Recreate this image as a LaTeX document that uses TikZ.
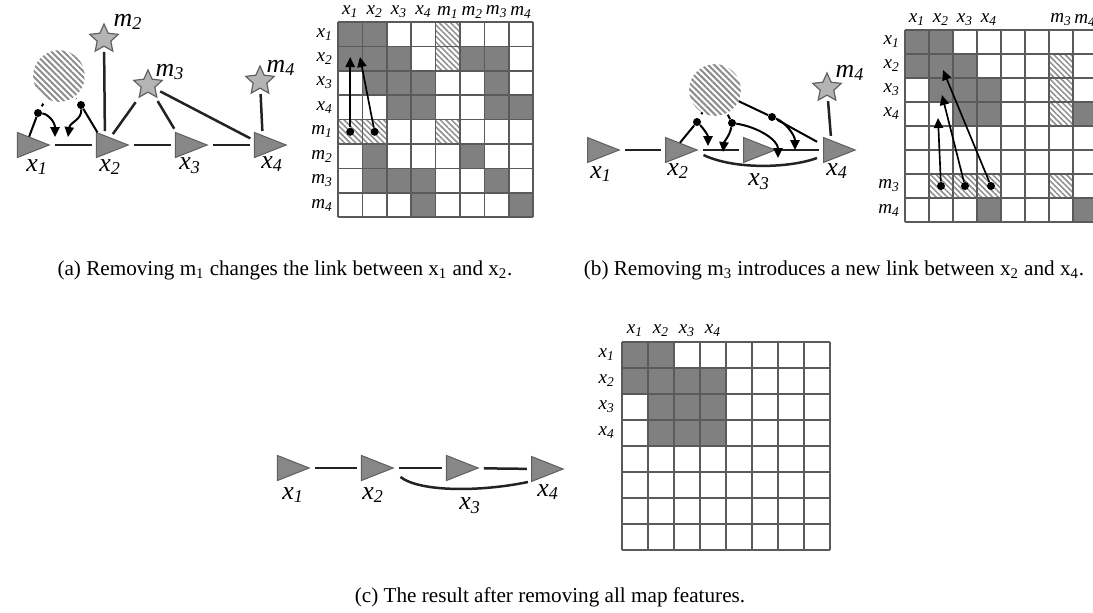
\documentclass[tikz,border=0pt]{standalone}
\usepackage{fontspec}
\setmainfont{Liberation Serif}
\usetikzlibrary{shapes.geometric,patterns.meta,arrows.meta}
\newcommand{\vlab}[2]{\textit{#1}\textsubscript{\textit{#2}}}

\begin{document}
\begin{tikzpicture}[x=0.6pt,y=-0.6pt]
  % Definir colores
  \definecolor{posefill}{RGB}{135,135,135}
  \definecolor{poseedge}{RGB}{95,95,95}
  \definecolor{starfill}{RGB}{180,180,180}
  \definecolor{cellgray}{RGB}{128,128,128}
  \definecolor{gridcolor}{RGB}{90,90,90}
  \definecolor{hatchcolor}{RGB}{140,140,140}
  \definecolor{linkcolor}{RGB}{35,35,35}

  % Configurar estilos
  \tikzset{
    pose/.style={isosceles triangle, isosceles triangle stretches, minimum width=15pt, minimum height=19pt, inner sep=0pt, fill=posefill, draw=poseedge, line width=0.6pt},
    landmark/.style={star, star points=5, star point ratio=2.1, minimum size=18pt, inner sep=0pt, fill=starfill, draw=poseedge, line width=0.7pt},
    mapblob/.style={circle, minimum size=31pt, inner sep=0pt, pattern={Lines[angle=-45,distance=2.6pt,line width=1.2pt]}, pattern color=hatchcolor},
    link/.style={draw=linkcolor, line width=1.5pt, shorten <=3pt, shorten >=2.5pt},
    tie/.style={draw=black, line width=1.2pt},
    dot/.style={circle, fill=black, minimum size=4.8pt, inner sep=0pt},
    jarrow/.style={draw=black, line width=1.2pt, -{Triangle[length=6pt,width=5.5pt]}},
    glab/.style={font=\fontsize{15.5}{17}\selectfont, inner sep=0pt},
    mlab/.style={font=\fontsize{11.5}{13}\selectfont, inner sep=0pt},
    cellon/.style={fill=cellgray},
    cellhatch/.style={pattern={Lines[angle=-45,distance=2.4pt,line width=0.9pt]}, pattern color=hatchcolor},
    gridline/.style={draw=gridcolor, line width=0.9pt},
    caption/.style={font=\fontsize{12.7}{15}\selectfont, inner sep=0pt}
  }

  \useasboundingbox (0,0) rectangle (1093,613);

  % Grafo (a)
  \node[pose] (a1) at (26,145) {};
  \node[pose] (a2) at (105,145) {};
  \node[pose] (a3) at (184,145) {};
  \node[pose] (a4) at (263,145) {};
  \node[glab] (la1) at (37,167) {\vlab{x}{1}};
  \node[glab] (la2) at (110,167) {\vlab{x}{2}};
  \node[glab] (la3) at (190,166) {\vlab{x}{3}};
  \node[glab] (la4) at (272,164) {\vlab{x}{4}};
  \node[mapblob] (am1) at (59,76) {};
  \node[landmark] (am2) at (104,39) {};
  \node[landmark] (am3) at (148,85) {};
  \node[landmark] (am4) at (260,81) {};
  \node[glab] (lam2) at (128,22) {\vlab{m}{2}};
  \node[glab] (lam3) at (170,72) {\vlab{m}{3}};
  \node[glab] (lam4) at (281,68) {\vlab{m}{4}};

  \draw[link] (a1) -- (a2);
  \draw[link] (a2) -- (a3);
  \draw[link] (a3) -- (a4);
  \draw[link] (am2) -- (a2);
  \draw[link] (am3) -- (a2);
  \draw[link] (am3) -- (a3);
  \draw[link] (am3) -- (a4);
  \draw[link] (am4) -- (a4);

  % Enlaces con m1 y sus flechas
  \node[dot] (ad1) at (38,113) {};
  \node[dot] (ad2) at (81,105) {};
  \coordinate (at1) at (55,137);
  \coordinate (at2) at (68,137);
  \draw[tie, shorten <=2pt, shorten >=3pt] (a1) -- (ad1) -- (am1);
  \draw[tie, shorten <=2pt, shorten >=1pt] (a2) -- (ad2) -- (am1);
  \draw[jarrow] (ad1) .. controls (48,114) and (55,122) .. (at1);
  \draw[jarrow] (ad2) .. controls (82,120) and (70,122) .. (at2);

  % Matriz (a)
  \begin{scope}[shift={(338,22)}]
    \foreach \c/\r in {1/1,2/1,1/2,2/2,3/2,6/2,7/2,2/3,3/3,4/3,7/3,3/4,4/4,7/4,8/4,2/6,6/6,2/7,3/7,4/7,7/7,4/8,8/8}
      \fill[cellon] ({(\c-1)*24.4},{(\r-1)*24.4}) rectangle ++(24.4,24.4);
    \foreach \c/\r in {5/1,5/2,1/5,2/5,5/5}
      \path[cellhatch] ({(\c-1)*24.4},{(\r-1)*24.4}) rectangle ++(24.4,24.4);
    \foreach \i in {0,...,8} {
      \draw[gridline] ({\i*24.4},0) -- ({\i*24.4},195.2);
      \draw[gridline] (0,{\i*24.4}) -- (195.2,{\i*24.4});
    }
    \foreach \v/\s [count=\i] in {x/1,x/2,x/3,x/4,m/1,m/2,m/3,m/4} {
      \node[mlab] (ach\i) at ({(\i-0.5)*24.4},-10) {\vlab{\v}{\s}};
      \node[mlab, anchor=east] (acr\i) at (-5,{(\i-0.5)*24.4}) {\vlab{\v}{\s}};
    }
    \node[dot] (amd1) at (12.2,109.8) {};
    \node[dot] (amd2) at (36.6,109.8) {};
    \coordinate (amt1) at (12.2,35);
    \coordinate (amt2) at (22,35);
    \draw[jarrow, line width=1pt] (amd1) -- (amt1);
    \draw[jarrow, line width=1pt] (amd2) -- (amt2);
  \end{scope}

  % Grafo (b)
  \node[pose] (b1) at (596,150) {};
  \node[pose] (b2) at (674,150) {};
  \node[pose] (b3) at (752,150) {};
  \node[pose] (b4) at (832,150) {};
  \node[glab] (lb1) at (601,174) {\vlab{x}{1}};
  \node[glab] (lb2) at (678,171) {\vlab{x}{2}};
  \node[glab] (lb3) at (759,182) {\vlab{x}{3}};
  \node[glab] (lb4) at (837,171) {\vlab{x}{4}};
  \node[mapblob] (bm3) at (715,90) {};
  \node[landmark] (bm4) at (827,88) {};
  \node[glab] (lbm4) at (850,73) {\vlab{m}{4}};

  \draw[link] (b1) -- (b2);
  \draw[link] (b2) -- (b3);
  \draw[link] (b3) -- (b4);
  \draw[link] (bm4) -- (b4);
  \draw[link, shorten <=0pt, shorten >=0pt] ([xshift=3pt,yshift=-3pt]b2.east) .. controls (735,170) and (790,168) .. ([xshift=-3.6pt,yshift=-4.8pt]b4.west);

  % Enlaces con m3 y sus flechas
  \node[dot] (bd1) at (697,122) {};
  \node[dot] (bd2) at (732,123) {};
  \node[dot] (bd3) at (772,117) {};
  \coordinate (bt1) at (708,146);
  \coordinate (bt2) at (723,152);
  \coordinate (bt3) at (778,158);
  \coordinate (bt4) at (795,150);
  \draw[tie, shorten <=4pt, shorten >=1pt] (b2) -- (bd1) -- (bm3);
  \draw[tie, shorten <=1pt] (bm3) -- (bd2);
  \draw[tie, shorten <=1pt, shorten >=4pt] (bm3) -- (bd3) -- (b4);
  \draw[jarrow] (bd1) .. controls (703,128) and (708,135) .. (bt1);
  \draw[jarrow] (bd2) .. controls (730,135) and (724,142) .. (bt2);
  \draw[jarrow] (bd2) .. controls (758,127) and (778,140) .. (bt3);
  \draw[jarrow] (bd3) .. controls (785,122) and (795,135) .. (bt4);

  % Matriz (b)
  \begin{scope}[shift={(905,30)}]
    \clip (-60,-40) rectangle (188,200);
    \foreach \c/\r in {1/1,2/1,1/2,2/2,3/2,2/3,3/3,4/3,3/4,4/4,8/4,4/8,8/8}
      \fill[cellon] ({(\c-1)*24},{(\r-1)*24}) rectangle ++(24,24);
    \foreach \c/\r in {7/2,7/3,7/4,2/7,3/7,4/7,7/7}
      \path[cellhatch] ({(\c-1)*24},{(\r-1)*24}) rectangle ++(24,24);
    \foreach \i in {0,...,8} {
      \draw[gridline] ({\i*24},0) -- ({\i*24},192);
      \draw[gridline] (0,{\i*24}) -- (192,{\i*24});
    }
    \foreach \i/\v/\s in {1/x/1,2/x/2,3/x/3,4/x/4,7/m/3,8/m/4} {
      \node[mlab] (bch\i) at ({(\i-0.5)*24},-10) {\vlab{\v}{\s}};
      \node[mlab, anchor=east] (bcr\i) at (-5,{(\i-0.5)*24}) {\vlab{\v}{\s}};
    }
    \node[dot] (bmd1) at (36,156) {};
    \node[dot] (bmd2) at (60,156) {};
    \node[dot] (bmd3) at (86,156) {};
    \coordinate (bmt1) at (33,88);
    \coordinate (bmt2) at (37,65);
    \coordinate (bmt3) at (38,40);
    \draw[jarrow, line width=1pt] (bmd1) -- (bmt1);
    \draw[jarrow, line width=1pt] (bmd2) -- (bmt2);
    \draw[jarrow, line width=1pt] (bmd3) -- (bmt3);
  \end{scope}

  % Grafo (c)
  \node[pose] (c1) at (286,468) {};
  \node[pose] (c2) at (370,468) {};
  \node[pose] (c3) at (455,468) {};
  \node[pose] (c4) at (540,469) {};
  \node[glab] (lc1) at (293,495) {\vlab{x}{1}};
  \node[glab] (lc2) at (373,495) {\vlab{x}{2}};
  \node[glab] (lc3) at (470,506) {\vlab{x}{3}};
  \node[glab] (lc4) at (548,492) {\vlab{x}{4}};

  \draw[link] (c1) -- (c2);
  \draw[link] (c2) -- (c3);
  \draw[link] (c3) -- (c4);
  \draw[link, shorten <=0pt, shorten >=0pt] ([xshift=3.6pt,yshift=-5.4pt]c2.east) .. controls (420,492) and (480,492) .. ([xshift=-1.8pt,yshift=-7.8pt]c4.west);

  % Matriz (c)
  \begin{scope}[shift={(622,342)}]
    \foreach \c/\r in {1/1,2/1,1/2,2/2,3/2,4/2,2/3,3/3,4/3,2/4,3/4,4/4}
      \fill[cellon] ({(\c-1)*26},{(\r-1)*26}) rectangle ++(26,26);
    \foreach \i in {0,...,8} {
      \draw[gridline] ({\i*26},0) -- ({\i*26},208);
      \draw[gridline] (0,{\i*26}) -- (208,{\i*26});
    }
    \foreach \i in {1,...,4} {
      \node[mlab] (cch\i) at ({(\i-0.5)*26},-11) {\vlab{x}{\i}};
      \node[mlab, anchor=east] (ccr\i) at (-7,{(\i-0.5)*26}) {\vlab{x}{\i}};
    }
  \end{scope}

  % Leyendas
  \node[caption] (capa) at (285,270) {(a) Removing m\textsubscript{1} changes the link between x\textsubscript{1} and x\textsubscript{2}.};
  \node[caption] (capb) at (834,270) {(b) Removing m\textsubscript{3} introduces a new link between x\textsubscript{2} and x\textsubscript{4}.};
  \node[caption] (capc) at (550,597) {(c) The result after removing all map features.};
\end{tikzpicture}
\end{document}
